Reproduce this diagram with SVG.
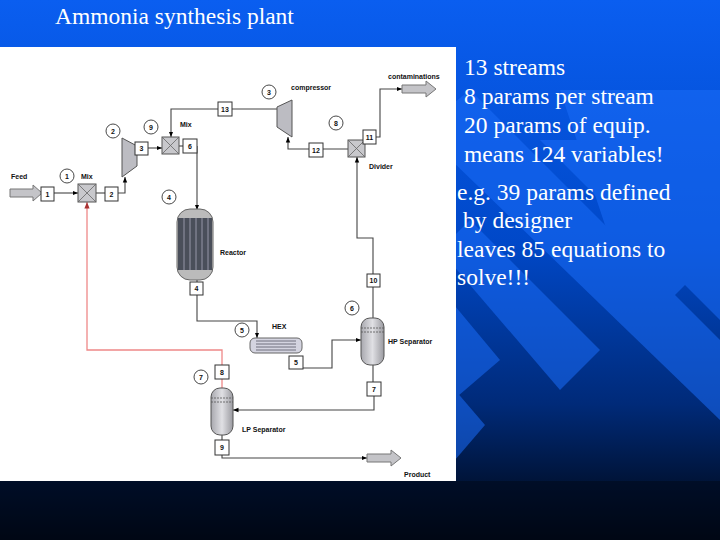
<svg xmlns="http://www.w3.org/2000/svg" width="720" height="540" viewBox="0 0 720 540">
<defs>
<linearGradient id="bg" x1="0" y1="0" x2="0" y2="1">
<stop offset="0" stop-color="#0a5ef0"/><stop offset="0.45" stop-color="#0048c8"/><stop offset="0.75" stop-color="#002a78"/><stop offset="1" stop-color="#000308"/>
</linearGradient>
<linearGradient id="vessel" x1="0" y1="0" x2="1" y2="0"><stop offset="0" stop-color="#a8a8ae"/><stop offset="0.5" stop-color="#e0e0e4"/><stop offset="1" stop-color="#9a9aa0"/></linearGradient>
<marker id="ah" viewBox="0 0 10 10" refX="10" refY="5" markerWidth="5" markerHeight="5" orient="auto"><path d="M0,1 L10,5 L0,9 z" fill="#000"/></marker>
<marker id="ahr" viewBox="0 0 10 10" refX="10" refY="5" markerWidth="5" markerHeight="5" orient="auto"><path d="M0,1 L10,5 L0,9 z" fill="#a33"/></marker>
</defs>
<style>
.ln{fill:none;stroke:#444;stroke-width:1.1}
.red{fill:none;stroke:#e88;stroke-width:1.3}
.bx{fill:#fff;stroke:#333;stroke-width:1}
.bt{font-family:"Liberation Sans",Arial,sans-serif;font-size:7px;font-weight:bold;text-anchor:middle;fill:#111}
.lb{font-family:"Liberation Sans",Arial,sans-serif;font-size:7px;font-weight:bold;fill:#111}
.ci{fill:#fff;stroke:#333;stroke-width:0.9}
.eq{fill:#bcbcc2;stroke:#555;stroke-width:1}
.mx{fill:#c8c8cc;stroke:#555;stroke-width:1}
.big{fill:#c4c4c8;stroke:#777;stroke-width:1}
.tx{font-family:"Liberation Serif","Times New Roman",serif;font-size:23.5px;fill:#fff}
</style>
<rect width="720" height="540" fill="url(#bg)"/>
<g fill="#1a6cf8" opacity="0.55">
<polygon points="560,90 720,90 720,250 640,330"/>
<polygon points="420,130 470,90 720,340 720,420"/>
<polygon points="440,250 470,220 600,350 560,390"/>
<polygon points="450,300 500,360 430,420"/>
<polygon points="455,390 485,425 455,460"/>
<polygon points="540,140 610,140 720,250 720,320"/>
</g>
<rect x="0" y="481" width="720" height="59" fill="#000a1c" opacity="0.6"/>
<text x="55" y="24" class="tx">Ammonia synthesis plant</text>
<g id="text-panel">
<text x="464" y="75" class="tx">13 streams</text>
<text x="464" y="104" class="tx">8 params per stream</text>
<text x="464" y="133" class="tx">20 params of equip.</text>
<text x="464" y="162" class="tx">means 124 variables!</text>
<text x="457" y="200" class="tx">e.g. 39 params defined</text>
<text x="463" y="228" class="tx">by designer</text>
<text x="457" y="257" class="tx">leaves 85 equations to</text>
<text x="457" y="285" class="tx">solve!!!</text>
</g>
<rect x="0" y="47" width="456" height="434" fill="#fff"/>
<g id="connectors">
<path class="ln" d="M54,193 H78" marker-end="url(#ah)"/>
<path class="ln" d="M96,193 H105"/>
<path class="ln" d="M118,193 H125 V177" marker-end="url(#ah)"/>
<path class="ln" d="M148,148 H162" marker-end="url(#ah)"/>
<path class="ln" d="M179,146 H183"/>
<path class="ln" d="M197,146 V210" marker-end="url(#ah)"/>
<path class="ln" d="M218,109 H171 V137" marker-end="url(#ah)"/>
<path class="ln" d="M232,109 H277"/>
<path class="ln" d="M349,149 H323 M309,149 H288 V137" marker-end="url(#ah)"/>
<path class="ln" d="M376,137 H380 V89 H402" marker-end="url(#ah)"/>
<path class="ln" d="M373,274 V238 H357 V157" marker-end="url(#ah)"/>
<path class="ln" d="M373,287 V320"/>
<path class="ln" d="M197,295 V321 H257 V338" marker-end="url(#ah)"/>
<path class="ln" d="M303,368 H332 V340 H361" marker-end="url(#ah)"/>
<path class="ln" d="M373,365 V382 M374,396 V410 H233" marker-end="url(#ah)"/>
<path class="ln" d="M222,435 V440 M222,455 V458 H367" marker-end="url(#ah)"/>
<path class="ln" d="M197,280 V282"/>
<path class="red" d="M222,388 V379 M222,365 V350 H87 V202" marker-end="url(#ahr)"/>
</g>
<g id="feed"><path class="big" d="M10,189 H33 V185 L42,193 L33,201 V197 H10 z"/><text x="11" y="179" class="lb">Feed</text></g>
<g id="contaminations"><path class="big" d="M402,85 H426 V81 L436,89 L426,97 V93 H402 z"/><text x="388" y="79" class="lb">contaminations</text></g>
<g id="product"><path class="big" d="M367,454 H391 V450 L401,458 L391,466 V462 H367 z"/><text x="404" y="477" class="lb">Product</text></g>
<g id="mix1"><rect x="78" y="184" width="18" height="18" class="mx"/><path d="M78,184 L96,202 M96,184 L78,202" stroke="#666" stroke-width="0.8"/><circle cx="67" cy="176" r="7" class="ci"/><text x="67" y="178.5" class="bt">1</text><text x="81" y="179" class="lb">Mix</text></g>
<g id="compressor2"><path d="M122,138 L137,146 V166 L122,177 z" class="eq"/><circle cx="113" cy="131" r="7" class="ci"/><text x="113" y="133.5" class="bt">2</text></g>
<g id="mix2"><rect x="162" y="137" width="17" height="17" class="mx"/><path d="M162,137 L179,154 M179,137 L162,154" stroke="#666" stroke-width="0.8"/><circle cx="151" cy="127" r="7" class="ci"/><text x="151" y="129.5" class="bt">9</text><text x="180" y="127" class="lb">Mix</text></g>
<g id="reactor"><rect x="177" y="209" width="36" height="71" rx="13" fill="#bbb" stroke="#666"/><rect x="178" y="218" width="34" height="52" fill="#4a4f5a"/><path d="M184,218 V270 M190,218 V270 M196,218 V270 M202,218 V270 M208,218 V270" stroke="#aab" stroke-width="0.8"/><circle cx="169" cy="197" r="7" class="ci"/><text x="169" y="199.5" class="bt">4</text><text x="220" y="255" class="lb">Reactor</text></g>
<g id="compressor3"><path d="M277,107 L292,100 V137 L277,127 z" class="eq"/><circle cx="269" cy="92" r="7" class="ci"/><text x="269" y="94.5" class="bt">3</text><text x="291" y="90" class="lb">compressor</text></g>
<g id="divider"><rect x="348" y="140" width="17" height="17" class="mx"/><path d="M348,140 L365,157 M365,140 L348,157" stroke="#666" stroke-width="0.8"/><circle cx="336" cy="123" r="7" class="ci"/><text x="336" y="125.5" class="bt">8</text><text x="369" y="169" class="lb">Divider</text></g>
<g id="hex"><rect x="250" y="338" width="52" height="15" rx="5" fill="#d4d4e0" stroke="#666"/><path d="M256,341 H296 M256,344 H296 M256,347 H296 M256,350 H296" stroke="#556" stroke-width="0.8"/><circle cx="242" cy="330" r="7" class="ci"/><text x="242" y="332.5" class="bt">5</text><text x="272" y="329" class="lb">HEX</text></g>
<g id="hp-separator"><rect x="361" y="318" width="23" height="47" rx="9" fill="url(#vessel)" stroke="#555"/><path d="M361,328 H384 M361,332 H384" stroke="#555" stroke-width="0.8" stroke-dasharray="2,1"/><circle cx="352" cy="308" r="7" class="ci"/><text x="352" y="310.5" class="bt">6</text><text x="388" y="344" class="lb">HP Separator</text></g>
<g id="lp-separator"><rect x="211" y="388" width="22" height="47" rx="9" fill="url(#vessel)" stroke="#555"/><path d="M211,398 H233 M211,402 H233" stroke="#555" stroke-width="0.8" stroke-dasharray="2,1"/><circle cx="201" cy="377" r="7" class="ci"/><text x="201" y="379.5" class="bt">7</text><text x="242" y="432" class="lb">LP Separator</text></g>
<g id="streams">
<rect x="41" y="187" width="13" height="14" class="bx"/><text x="47.5" y="196.5" class="bt">1</text>
<rect x="105" y="187" width="13" height="14" class="bx"/><text x="111.5" y="196.5" class="bt">2</text>
<rect x="135" y="142" width="13" height="13" class="bx"/><text x="141.5" y="151" class="bt">3</text>
<rect x="183" y="139" width="14" height="14" class="bx"/><text x="190" y="148.5" class="bt">6</text>
<rect x="190" y="282" width="13" height="13" class="bx"/><text x="196.5" y="291" class="bt">4</text>
<rect x="218" y="102" width="14" height="14" class="bx"/><text x="225" y="111.5" class="bt">13</text>
<rect x="309" y="143" width="14" height="14" class="bx"/><text x="316" y="152.5" class="bt">12</text>
<rect x="363" y="130" width="13" height="14" class="bx"/><text x="369.5" y="139.5" class="bt">11</text>
<rect x="367" y="274" width="13" height="13" class="bx"/><text x="373.5" y="283" class="bt">10</text>
<rect x="289" y="356" width="14" height="13" class="bx"/><text x="296" y="365" class="bt">5</text>
<rect x="367" y="382" width="14" height="14" class="bx"/><text x="374" y="391.5" class="bt">7</text>
<rect x="215" y="365" width="14" height="14" class="bx"/><text x="222" y="374.5" class="bt">8</text>
<rect x="215" y="440" width="14" height="15" class="bx"/><text x="222" y="450" class="bt">9</text>
</g>
</svg>
